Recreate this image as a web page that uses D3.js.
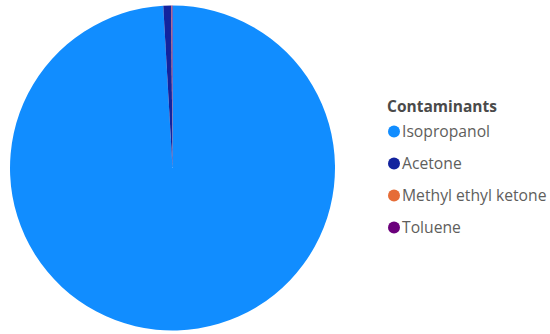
<!DOCTYPE html>
<html><head><meta charset="utf-8">
<script src="https://cdn.jsdelivr.net/npm/d3@7"></script>
<style>html,body{margin:0;padding:0;background:#fff;}svg{display:block;}</style>
</head><body>
<svg id="chart" width="550" height="334"></svg>
<script>
const categories = ["Isopropanol", "Acetone", "Methyl ethyl ketone", "Toluene"];
const values = [2400, 19, 1, 2];
const colors = ["#118DFF", "#12239E", "#E66C37", "#6B007B"];
const legendTitle = "Contaminants";

const svg = d3.select("#chart");
const cx = 172.5, cy = 168, r = 162.5;
const data = categories.map((c, i) => ({ name: c, value: values[i] }));
const color = d3.scaleOrdinal().domain(categories).range(colors);
const pie = d3.pie().value(d => d.value).sort(null);
const arc = d3.arc().innerRadius(0).outerRadius(r);

svg.append("g").attr("transform", `translate(${cx},${cy})`)
  .selectAll("path").data(pie(data)).join("path")
  .attr("d", arc).attr("fill", d => color(d.data.name));

const lg = svg.append("g").attr("transform", "translate(387,0)");
lg.append("text").attr("x", 0).attr("y", 111.5)
  .attr("font-family", "'Segoe UI', 'Open Sans', sans-serif")
  .attr("font-size", 15.5).attr("font-weight", "bold").attr("fill", "#4a4a4a")
  .text(legendTitle);
const rowY = d3.scalePoint().domain(categories).range([131, 227]);
const items = lg.selectAll("g.item").data(categories).join("g")
  .attr("transform", d => `translate(0,${rowY(d)})`);
items.append("circle").attr("cx", 7).attr("cy", 0.5).attr("r", 6).attr("fill", d => color(d));
items.append("text").attr("x", 15).attr("y", 6)
  .attr("font-family", "'Segoe UI', 'Open Sans', sans-serif")
  .attr("font-size", 15.7).attr("fill", "#605E5C").text(d => d);
</script>
</body></html>
